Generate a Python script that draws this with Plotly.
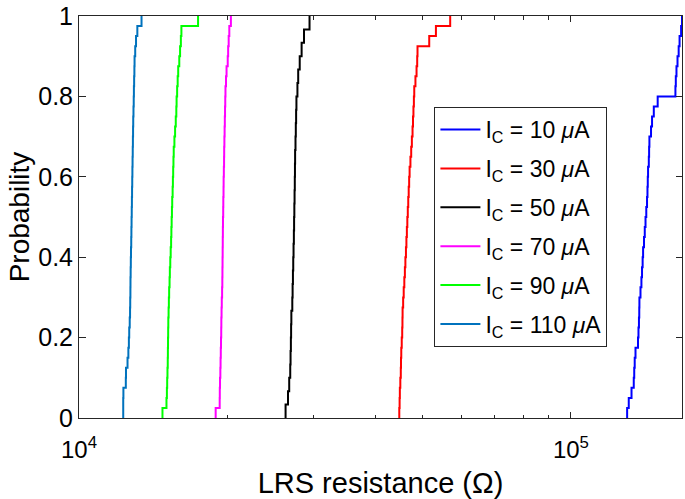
import numpy as np
import plotly.graph_objects as go

# Sample LRS resistance values (Ohm)
r_10uA = [130100, 131100, 132800, 134200, 134500, 134800, 135300, 136900, 137200, 137500,
          137700, 137800, 138500, 139100, 139500, 139900, 140200, 140800, 141300, 141800,
          142300, 142800, 143100, 143300, 143500, 144000, 144200, 144400, 145500, 146200,
          147400, 150100, 163100, 163400, 163900, 164700, 165600, 166300, 167500, 168200]
r_30uA = [44780, 44850, 44900, 45000, 45100, 45140, 45200, 45300, 45400, 45450,
          45480, 45600, 45720, 45850, 45970, 46080, 46200, 46300, 46400, 46500,
          46600, 46700, 46800, 46900, 47000, 47180, 47350, 47500, 47650, 47750,
          47850, 47950, 48030, 48300, 48550, 48700, 48770, 51520, 53160, 56830]
r_50uA = [26300, 26600, 26750, 26880, 26920, 26960, 26990, 27020, 27140, 27180,
          27220, 27260, 27300, 27340, 27370, 27400, 27430, 27460, 27480, 27500,
          27550, 27590, 27630, 27670, 27800, 27900, 28100, 28350, 28670, 29420]
r_70uA = [18960, 19320, 19330, 19350, 19380, 19400, 19420, 19440, 19460, 19470,
          19490, 19510, 19540, 19560, 19570, 19580, 19590, 19600, 19610, 19620,
          19640, 19650, 19670, 19680, 19700, 19720, 19730, 19750, 19770, 19790,
          19810, 19830, 19850, 19900, 19950, 20060, 20100, 20150, 20210, 20360]
r_90uA = [14780, 15060, 15090, 15110, 15130, 15150, 15160, 15170, 15180, 15190,
          15210, 15230, 15250, 15280, 15300, 15330, 15360, 15390, 15410, 15430,
          15450, 15470, 15500, 15520, 15540, 15560, 15580, 15630, 15680, 15730,
          15770, 15790, 15830, 15870, 15910, 15990, 16050, 16110, 16150, 17460]
r_110uA = [12300, 12300, 12310, 12450, 12460, 12550, 12600, 12630, 12650, 12680,
           12700, 12710, 12720, 12725, 12735, 12745, 12755, 12770, 12780, 12790,
           12800, 12810, 12820, 12830, 12840, 12850, 12860, 12870, 12880, 12890,
           12905, 12920, 12930, 12945, 12960, 12970, 13010, 13060, 13140, 13400]

series_names = ["I<sub>C</sub> = 10 <i>μ</i>A", "I<sub>C</sub> = 30 <i>μ</i>A",
                "I<sub>C</sub> = 50 <i>μ</i>A", "I<sub>C</sub> = 70 <i>μ</i>A",
                "I<sub>C</sub> = 90 <i>μ</i>A", "I<sub>C</sub> = 110 <i>μ</i>A"]
series_data = [r_10uA, r_30uA, r_50uA, r_70uA, r_90uA, r_110uA]
series_colors = ["#0000FF", "#FF0000", "#000000", "#FF00FF", "#00FF00", "#0072BD"]

x_major = [1e4, 1e5]
x_major_text = ["10<sup>4</sup>", "10<sup>5</sup>"]
x_minor = [2e4, 3e4, 4e4, 5e4, 6e4, 7e4, 8e4, 9e4]
y_ticks = [0, 0.2, 0.4, 0.6, 0.8, 1]
y_ticktext = ["0", "0.2", "0.4", "0.6", "0.8", "1"]

FONT = "Liberation Sans, Arial, Helvetica, sans-serif"
AX = "#262626"

fig = go.Figure()
for i, (name, data, color) in enumerate(zip(series_names, series_data, series_colors)):
    xs = np.sort(np.array(data, dtype=float))
    n = len(xs)
    x_step = np.concatenate([[xs[0]], xs])
    y_step = np.arange(0, n + 1) / n
    fig.add_trace(go.Scatter(x=x_step, y=y_step, mode="lines", name=name,
                             legendgroup=f"g{i}",
                             line=dict(color=color, width=2, shape="hv")))

xmax = max(max(d) for d in series_data)

fig.update_layout(
    width=685, height=499,
    margin=dict(l=79, r=2, t=9, b=81),
    paper_bgcolor="white", plot_bgcolor="white",
    font=dict(family=FONT, color="#000000", size=22),
    showlegend=True,
    legend=dict(x=(435 - 79) / 604, y=(418 - 102) / 408.5, xanchor="left", yanchor="top",
                bordercolor=AX, borderwidth=1, bgcolor="white",
                font=dict(family=FONT, size=23, color="#000000"),
                tracegroupgap=6, itemwidth=40),
    xaxis=dict(type="log", range=[4, np.log10(xmax)],
               tickmode="array", tickvals=x_major, ticktext=x_major_text,
               ticks="inside", ticklen=6, tickwidth=1, tickcolor=AX,
               minor=dict(tickmode="array", tickvals=x_minor, ticks="inside",
                          ticklen=3.5, tickwidth=1, tickcolor=AX, showgrid=False),
               showline=True, linecolor=AX, linewidth=1, mirror="ticks",
               showgrid=False, zeroline=False,
               tickfont=dict(size=24, family=FONT, color="#000000"),
               ticklabelstandoff=10,
               title=dict(text="LRS resistance (Ω)", font=dict(size=29, family=FONT),
                          standoff=10)),
    yaxis=dict(range=[0, 1], tickmode="array", tickvals=y_ticks, ticktext=y_ticktext,
               ticks="inside", ticklen=6.5, tickwidth=1, tickcolor=AX,
               showline=True, linecolor=AX, linewidth=1, mirror="ticks",
               showgrid=False, zeroline=False,
               tickfont=dict(size=25, family=FONT, color="#000000"),
               ticklabelstandoff=0, ticklabeloverflow="allow",
               title=dict(text="Probability", font=dict(size=28, family=FONT),
                          standoff=0)),
)

fig.write_html("out.html", config={"displayModeBar": False},
               post_script="document.body.style.margin='0';")
